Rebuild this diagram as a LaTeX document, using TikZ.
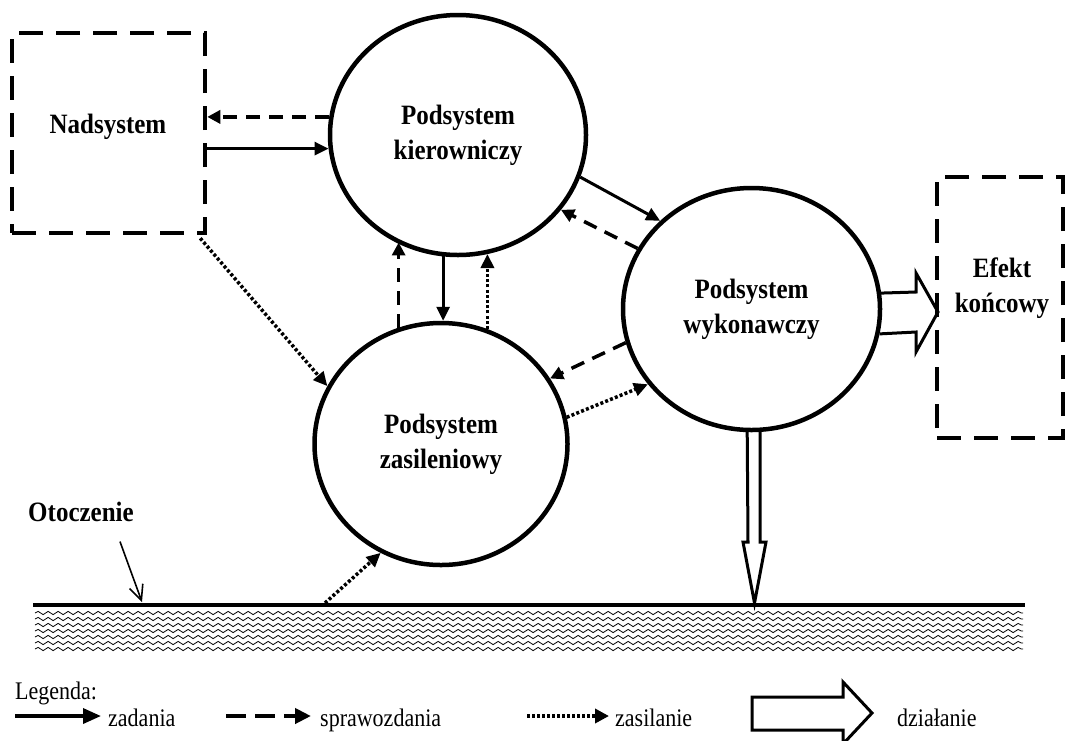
\documentclass[tikz,border=0pt]{standalone}
\usepackage{fontspec}
\setmainfont{Liberation Serif}
\usetikzlibrary{arrows.meta,shapes.geometric,decorations.pathmorphing,calc}

% slightly tall lettering, one or more centred lines
\newcommand\talltext[1]{\scalebox{1}[1.12]{\begin{tabular}{@{}c@{}}#1\end{tabular}}}

\begin{document}
\begin{tikzpicture}[x=1pt,y=-1pt,
  sub/.style={ellipse, draw, line width=4.5pt, inner sep=0pt,
    font=\bfseries\fontsize{25}{31}\selectfont},
  dbox/.style={draw, line width=4.5pt, dash pattern=on 24pt off 13pt, inner sep=0pt},
  lbl/.style={inner sep=0pt, font=\bfseries\fontsize{25}{31}\selectfont},
  zad/.style={line width=3pt, -{Triangle[length=14pt,width=13pt]}},
  spr/.style={line width=3.5pt, dash pattern=on 14pt off 9pt, -{Triangle[length=13pt,width=13pt]}},
  zas/.style={line width=3.5pt, dash pattern=on 3pt off 2.2pt, -{Triangle[length=14pt,width=13pt]}},
  hollow/.style={line width=3pt, line join=miter},
  leg/.style={anchor=base west, inner sep=0pt, font=\fontsize{22}{26}\selectfont},
  wave/.style={line width=0.8pt, decorate, decoration={snake, segment length=10pt, amplitude=1.6pt}}
]
\useasboundingbox (0,0) rectangle (1065,740);

% subsystems
\node[sub, minimum width=256pt, minimum height=240pt] (K) at (458,135) {\talltext{Podsystem\\kierowniczy}};
\node[sub, minimum width=253pt, minimum height=242pt] (Z) at (441,444) {\talltext{Podsystem\\zasileniowy}};
\node[sub, minimum width=257pt, minimum height=242pt] (W) at (751.5,309) {\talltext{Podsystem\\wykonawczy}};

% supersystem and final effect
\node[dbox, minimum width=193pt, minimum height=200pt] (N) at (108.5,133) {};
\node[lbl] (Nt) at (108,127) {\talltext{Nadsystem}};
\node[dbox, minimum width=126pt, minimum height=261pt] (E) at (1000,307.5) {};
\node[lbl] (Et) at (1002,288) {\talltext{Efekt\\końcowy}};

% tasks, reports and supply between the blocks
\draw[spr] (K.172.8) -- (K.172.8 -| N.east);
\draw[zad] (K.186.7 -| N.east) -- (K.186.7);
\draw[zas] ([xshift=-7pt,yshift=-3pt]N.south east) -- (Z.153.4);

\draw[spr] (Z.110.7) -- (Z.110.7 |- K.240.5);
\draw[zad] (K.263) -- (K.263 |- Z.89);
\draw[zas] (Z.68.8) -- (Z.68.8 |- K.284.5);

\draw[zad] (K.341.8) -- (W.136.4);
\draw[spr] (W.152.7) -- (K.324.8);
\draw[spr] (W.195) -- (Z.31.7);
\draw[zas] (Z.12.3) -- (W.216.3);

% surroundings
\coordinate (G1) at (33,605);
\coordinate (G2) at (1025,605);
\foreach \y in {613,619,...,649}
  \draw[wave] (35,\y) -- (1023,\y);
\draw[line width=4.5pt] (G1) -- (G2);
\node[lbl] (O) at (81,515) {\talltext{Otoczenie}};
\coordinate (OG) at (142,602);
\draw[line width=1.6pt, -{Straight Barb[length=15pt,width=14pt]}] ($(O.south)+(39,9)$) -- (OG);
\coordinate (GZ) at (325,603);
\draw[zas] (GZ) -- (Z.241);

% actions
\draw[hollow] (W.7.5) -- (916,292) -- (916,273) -- (938,312) -- (916,352) -- (916,332) -- (W.349.9);
\draw[hollow] (W.268.3) -- (748,542) -- (743,542) -- (754.5,603) -- (766,542) -- (760,542) -- (W.274);

% legend
\node[leg] (Lg) at (15,699) {\scalebox{1}[1.15]{Legenda:}};
\coordinate (l1) at (15,716);
\coordinate (l2) at (226,716);
\coordinate (l3) at (527,716);
\node[leg] (lz) at (108,726) {\scalebox{1}[1.15]{zadania}};
\node[leg] (lsp) at (320,726) {\scalebox{1}[1.15]{sprawozdania}};
\node[leg] (lza) at (615,726) {\scalebox{1}[1.15]{zasilanie}};
\node[leg] (ldz) at (897,726) {\scalebox{1}[1.15]{działanie}};
\draw[line width=3.5pt, -{Triangle[length=18pt,width=15pt]}] (l1) -- ([xshift=-7pt]l1 -| lz.west);
\draw[line width=4pt, dash pattern=on 20pt off 9pt, -{Triangle[length=16pt,width=15pt]}] (l2) -- ([xshift=-9pt]l2 -| lsp.west);
\draw[line width=4pt, dash pattern=on 3pt off 2pt, -{Triangle[length=14pt,width=14pt]}] (l3) -- ([xshift=-6pt]l3 -| lza.west);
\draw[hollow, fill=white] (752,697) -- (843,697) -- (843,682) -- (872,713) -- (843,744) -- (843,730) -- (752,730) -- cycle;
\end{tikzpicture}
\end{document}
